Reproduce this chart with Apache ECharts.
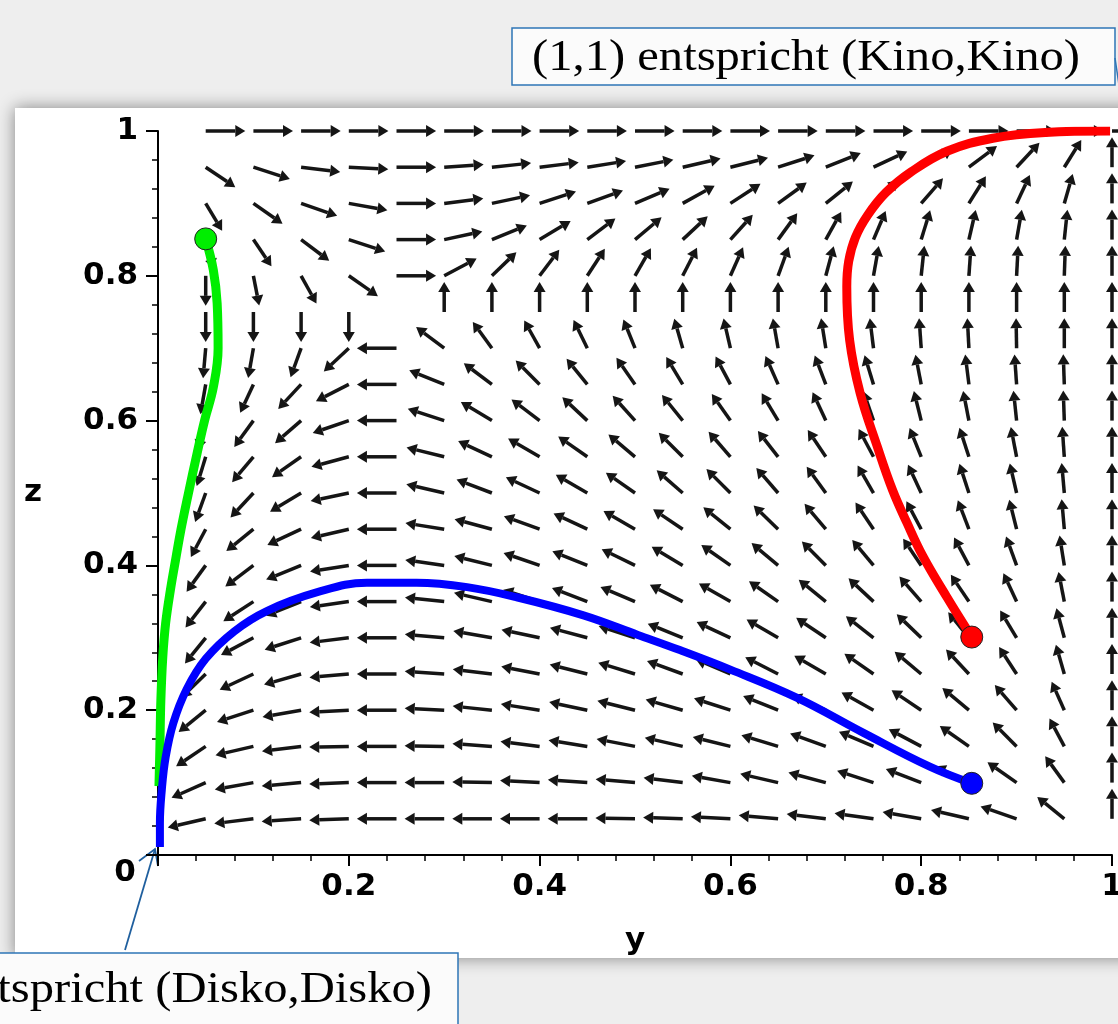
<!DOCTYPE html>
<html>
<head>
<meta charset="utf-8">
<script src="https://cdn.jsdelivr.net/npm/echarts@6/dist/echarts.min.js"></script>
<style>
html, body { margin: 0; padding: 0; background: #eeeeee; }
#chart { width: 1118px; height: 1024px; }
</style>
</head>
<body>
<div id="chart"></div>
<script>
// arrow tails of the direction field (y along x axis, z along y axis)
var colsY = [0.05, 0.10, 0.15, 0.20, 0.25, 0.30, 0.35, 0.40, 0.45, 0.50,
             0.55, 0.60, 0.65, 0.70, 0.75, 0.80, 0.85, 0.90, 0.95, 1.00];
var rowsZ = [1.00, 0.95, 0.90, 0.85, 0.80, 0.75, 0.70, 0.65, 0.60, 0.55,
             0.50, 0.45, 0.40, 0.35, 0.30, 0.25, 0.20, 0.15, 0.10, 0.05];
// direction of each arrow as seen on screen, degrees (0 = right, 90 = up), one row per z, top first
var angleRows = [
  [0, 0, 0, 0, 0, 0, 0, 0, 0, 0, 0, 0, 0, 0, 0, 0, 0, 0, 0, 0],
  [-34, -18, -7, -3, 0, 4, 6, 7, 9, 11, 13, 14, 18, 22, 25, 30, 37, 47, 58, 90],
  [-59, -35, -19, -10, 0, 7, 12, 18, 20, 23, 29, 33, 36, 39, 43, 49, 58, 65, 74, 90],
  [-75, -56, -37, -18, 0, 12, 22, 31, 37, 40, 43, 48, 54, 61, 67, 73, 77, 80, 84, 90],
  [-90, -79, -61, -35, 0, 28, 44, 53, 57, 60, 63, 66, 70, 75, 80, 84, 86, 87, 88, 90],
  [-90, -90, -90, -90, null, 90, 90, 90, 90, 90, 90, 90, 90, 90, 90, 90, 90, 90, 90, 90],
  [-95, -100, -110, -137, 180, 143, 126, 119, 116, 112, 106, 103, 100, 99, 97, 94, 93, 91, 90, 90],
  [-100, -115, -133, -153, 180, 158, 143, 135, 129, 125, 121, 118, 114, 111, 107, 101, 97, 94, 92, 90],
  [-105, -126, -139, -161, 180, 162, 149, 143, 137, 132, 129, 125, 121, 115, 109, 104, 101, 96, 92, 90],
  [-107, -130, -145, -165, 180, 166, 155, 150, 145, 140, 135, 131, 128, 124, 118, 112, 108, 101, 94, 90],
  [-110, -133, -149, -168, 180, 167, 159, 155, 150, 145, 139, 135, 131, 126, 120, 115, 108, 103, 95, 90],
  [-118, -141, -155, -167, 180, 171, 165, 160, 155, 150, 146, 141, 136, 130, 124, 118, 111, 104, 95, 90],
  [-126, -143, -158, -171, 180, 172, 166, 161, 158, 154, 149, 145, 140, 135, 130, 124, 118, 110, 99, 90],
  [-128, -147, -158, -172, 180, 174, 167, 162, 159, 157, 153, 150, 145, 141, 137, 131, 124, 115, 101, 90],
  [-129, -152, -162, -173, 180, 175, 170, 168, 165, 162, 158, 155, 150, 146, 142, 136, 129, 121, 105, 90],
  [-136, -155, -164, -175, 180, 176, 173, 169, 166, 163, 160, 157, 153, 150, 145, 140, 133, 123, 106, 90],
  [-141, -162, -170, -177, 180, 177, 174, 171, 168, 166, 164, 162, 158, 156, 151, 146, 140, 131, 114, 90],
  [-146, -167, -173, -179, 180, 179, 176, 173, 171, 169, 167, 166, 163, 160, 157, 152, 145, 135, 118, 90],
  [-156, -170, -175, -178, 180, 180, 179, 177, 176, 175, 173, 170, 167, 165, 162, 159, 154, 145, 126, 90],
  [-167, -173, -176, -178, 180, 180, 180, 180, 180, 179, 178, 177, 175, 173, 172, 170, 167, 161, 141, 90]
];

// solution curves [y, z], start point first
var greenPath = [[0.050, 0.851], [0.058, 0.808], [0.062, 0.762], [0.063, 0.700], [0.058, 0.646],
  [0.049, 0.601], [0.041, 0.555], [0.031, 0.494], [0.024, 0.449], [0.019, 0.412], [0.013, 0.366],
  [0.008, 0.320], [0.005, 0.273], [0.003, 0.214], [0.002, 0.150], [0.001, 0.095]];
var bluePath = [[0.853, 0.099], [0.809, 0.122], [0.739, 0.169], [0.670, 0.217], [0.600, 0.256],
  [0.547, 0.283], [0.503, 0.304], [0.446, 0.331], [0.376, 0.356], [0.324, 0.370], [0.271, 0.376],
  [0.219, 0.376], [0.167, 0.363], [0.114, 0.337], [0.080, 0.309], [0.050, 0.271], [0.030, 0.229],
  [0.016, 0.182], [0.008, 0.135], [0.004, 0.090], [0.002, 0.044], [0.002, 0.011]];
var redPath = [[0.853, 0.301], [0.827, 0.356], [0.802, 0.412], [0.785, 0.459], [0.770, 0.504],
  [0.754, 0.564], [0.736, 0.638], [0.725, 0.711], [0.722, 0.785], [0.724, 0.820], [0.731, 0.853],
  [0.744, 0.884], [0.763, 0.915], [0.790, 0.944], [0.827, 0.972], [0.875, 0.990], [0.930, 0.998],
  [0.998, 1.000]];

var arrowLen = 0.0415;   // arrow length in data units

var fieldData = [];
rowsZ.forEach(function (z, i) {
  colsY.forEach(function (y, j) {
    var a = angleRows[i][j];
    if (a !== null) fieldData.push([y, z, a]);
  });
});

function renderArrow(params, api) {
  var y = api.value(0), z = api.value(1), t = api.value(2) * Math.PI / 180;
  var unit = api.size([1, 1]);
  var dy = Math.cos(t) / unit[0], dz = Math.sin(t) / unit[1];
  var n = Math.sqrt(dy * dy + dz * dz);
  var tail = api.coord([y, z]);
  var tip = api.coord([y + arrowLen * dy / n, z + arrowLen * dz / n]);
  var vx = tip[0] - tail[0], vy = tip[1] - tail[1];
  var len = Math.sqrt(vx * vx + vy * vy) || 1;
  var ux = vx / len, uy = vy / len;
  var headLen = 10, headW = 6;
  var hb = [tip[0] - ux * headLen, tip[1] - uy * headLen];
  return {
    type: 'group',
    children: [
      { type: 'line', shape: { x1: tail[0], y1: tail[1], x2: hb[0], y2: hb[1] },
        style: { stroke: '#151515', lineWidth: 3.5 } },
      { type: 'polygon',
        shape: { points: [tip, [hb[0] - uy * headW, hb[1] + ux * headW], [hb[0] + uy * headW, hb[1] - ux * headW]] },
        style: { fill: '#151515' } }
    ]
  };
}

var chart = echarts.init(document.getElementById('chart'));
var tickFont = { fontFamily: 'DejaVu Sans', fontWeight: 'bold', fontSize: 31, color: '#000' };
var nameFont = { fontFamily: 'DejaVu Sans', fontWeight: 'bold', fontSize: 31, color: '#000' };
var labelFmt = function (v) { return v === 0 ? '' : String(Math.round(v * 10) / 10); };

chart.setOption({
  animation: false,
  backgroundColor: '#eeeeee',
  grid: { left: 158, top: 131, width: 954, height: 724, containLabel: false, outerBoundsMode: 'none' },
  xAxis: {
    type: 'value', min: 0, max: 1, interval: 0.2,
    name: 'y', nameLocation: 'middle', nameGap: 70,
    nameTextStyle: nameFont,
    axisLine: { lineStyle: { color: '#000', width: 2 } },
    axisTick: { length: 11, lineStyle: { color: '#000', width: 2 } },
    minorTick: { show: true, splitNumber: 5, length: 6, lineStyle: { color: '#000', width: 1.5 } },
    splitLine: { show: false },
    axisLabel: Object.assign({ margin: 16, formatter: labelFmt, hideOverlap: false }, tickFont)
  },
  yAxis: {
    type: 'value', min: 0, max: 1, interval: 0.2,
    name: 'z', nameLocation: 'middle', nameGap: 125, nameRotate: 0,
    nameTextStyle: Object.assign({ align: 'center', verticalAlign: 'middle' }, nameFont),
    axisLine: { lineStyle: { color: '#000', width: 2 } },
    axisTick: { length: 12, lineStyle: { color: '#000', width: 2 } },
    minorTick: { show: true, splitNumber: 5, length: 6, lineStyle: { color: '#000', width: 1.5 } },
    splitLine: { show: false },
    axisLabel: Object.assign({ margin: 20, formatter: labelFmt }, tickFont)
  },
  graphic: [
    { type: 'rect', z: -100, shape: { x: 15, y: 108, width: 1130, height: 850 },
      style: { fill: '#ffffff', shadowBlur: 16, shadowColor: 'rgba(0,0,0,0.45)' } },
    { type: 'text', x: 125, y: 873, style: { text: '0', font: 'bold 31px "DejaVu Sans"', fill: '#000', align: 'center', verticalAlign: 'middle' } },
    { type: 'rect', shape: { x: 512, y: 28, width: 603, height: 57 },
      style: { fill: '#fbfbfb', stroke: '#2e75b6', lineWidth: 1.5 } },
    { type: 'text', x: 532, y: 58, scaleX: 1.08,
      style: { text: '(1,1) entspricht (Kino,Kino)', font: '45px "Liberation Serif"', fill: '#000', align: 'left', verticalAlign: 'middle' } },
    { type: 'line', shape: { x1: 1115, y1: 58, x2: 1123, y2: 112 }, style: { stroke: '#2e75b6', lineWidth: 1.5 } },
    { type: 'rect', shape: { x: -5, y: 953, width: 463, height: 90 },
      style: { fill: '#fbfbfb', stroke: '#2e75b6', lineWidth: 1.5 } },
    { type: 'text', x: 432, y: 990, scaleX: 1.08,
      style: { text: '(0,0) entspricht (Disko,Disko)', font: '45px "Liberation Serif"', fill: '#000', align: 'right', verticalAlign: 'middle' } },
    { type: 'polyline', shape: { points: [[125, 950], [155, 849]] }, style: { stroke: '#1f5f9e', lineWidth: 1.8 } },
    { type: 'polyline', shape: { points: [[139, 861], [155, 849], [158, 866]] }, style: { stroke: '#1f5f9e', lineWidth: 1.8, fill: null } }
  ],
  series: [
    { type: 'custom', renderItem: renderArrow, data: fieldData, clip: false, z: 2 },
    { type: 'line', data: greenPath, smooth: 0.4, showSymbol: false, z: 3,
      lineStyle: { color: '#00ee00', width: 9 } },
    { type: 'line', data: bluePath, smooth: 0.4, showSymbol: false, z: 3,
      lineStyle: { color: '#0000ff', width: 8 } },
    { type: 'line', data: redPath, smooth: 0.4, showSymbol: false, z: 3,
      lineStyle: { color: '#ff0000', width: 9 } },
    { type: 'scatter', symbolSize: 22, z: 4,
      data: [
        { value: greenPath[0], itemStyle: { color: '#00ee00' } },
        { value: bluePath[0], itemStyle: { color: '#0000ff' } },
        { value: redPath[0], itemStyle: { color: '#ff0000' } }
      ],
      itemStyle: { borderColor: '#222', borderWidth: 1, opacity: 1 } }
  ]
});
</script>
</body>
</html>
